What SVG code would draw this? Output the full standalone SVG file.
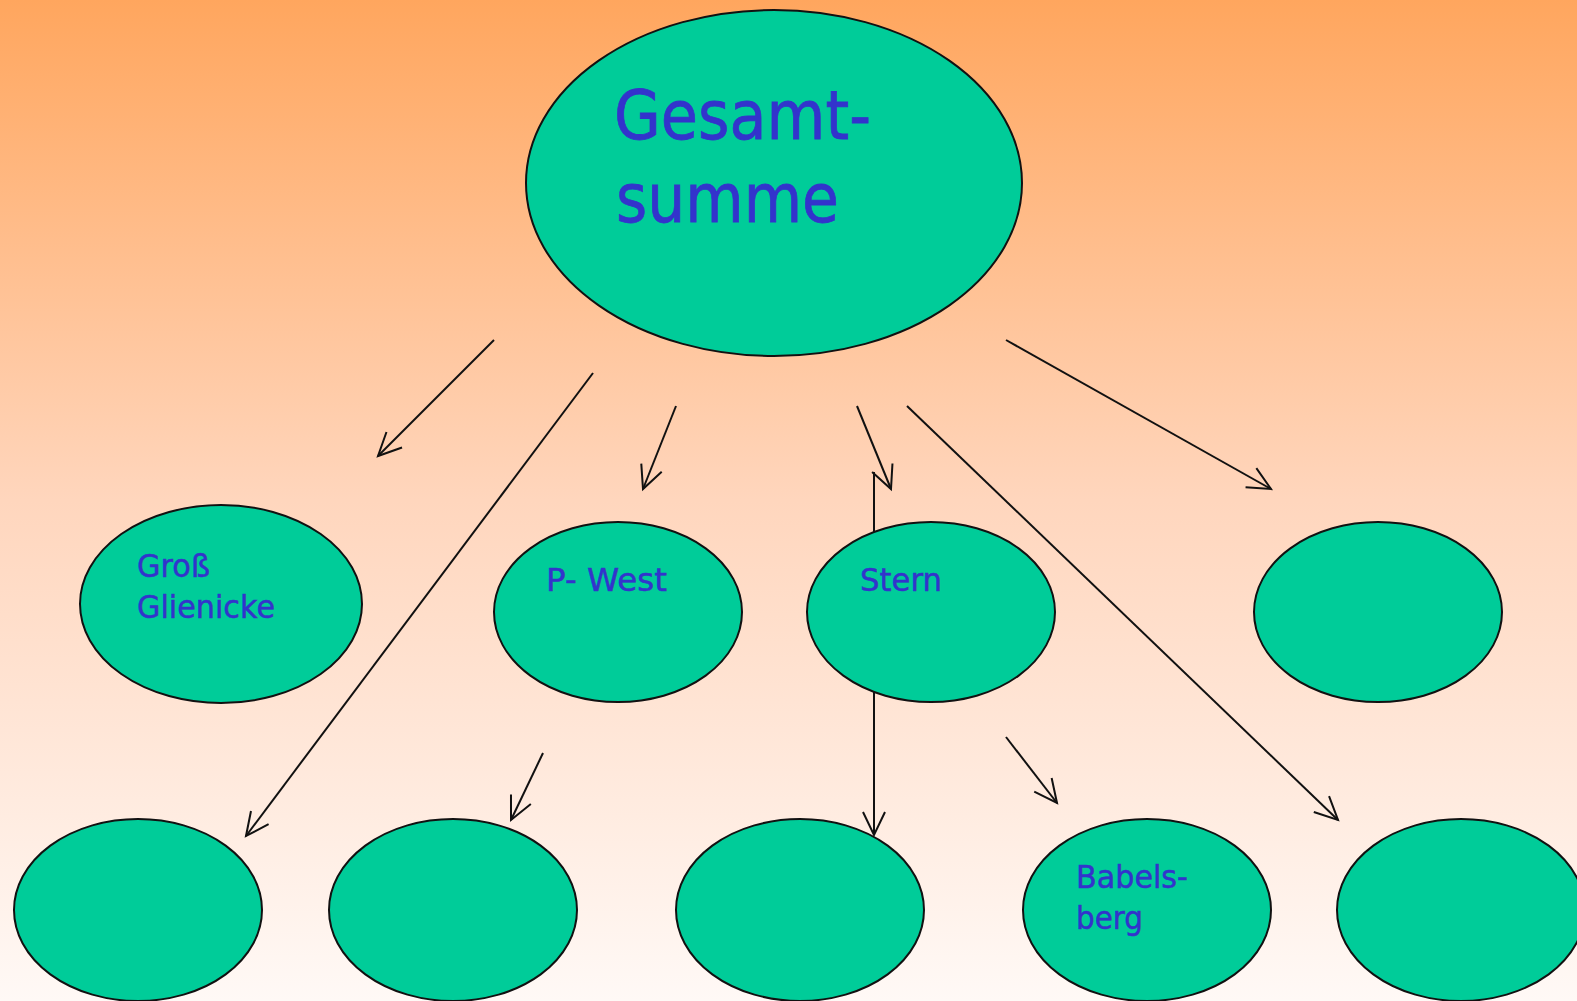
<svg xmlns="http://www.w3.org/2000/svg" width="1577" height="1001" viewBox="0 0 1577 1001">
  <defs>
    <linearGradient id="bg" x1="0" y1="0" x2="0" y2="1">
      <stop offset="0" stop-color="#FFA65E"/>
      <stop offset="0.5" stop-color="#FFD6BD"/>
      <stop offset="1" stop-color="#FFF9F6"/>
    </linearGradient>
    <marker id="arr" markerUnits="userSpaceOnUse" orient="auto" refX="0" refY="0" markerWidth="30" markerHeight="30" overflow="visible">
      <path d="M-23,-11 L0,0 L-23,11" fill="none" stroke="#111" stroke-width="2"/>
    </marker>
    <style>
      .node { fill: #00CC99; stroke: #111; stroke-width: 2; }
      .lbl { fill: #3333CC; stroke: #3333CC; font-family: "DejaVu Sans", "Noto Sans", sans-serif; }
      .big { font-size: 68px; stroke-width: 0.8; }
      .sm { font-size: 32px; stroke-width: 0.5; }
      .con { stroke: #111; stroke-width: 2; fill: none; }
    </style>
  </defs>
  <rect x="0" y="0" width="1577" height="1001" fill="url(#bg)"/>

  <g id="node-gesamtsumme">
    <ellipse class="node" cx="774" cy="183" rx="248" ry="173"/>
    <text class="lbl big" x="614" y="139" textLength="257" lengthAdjust="spacingAndGlyphs">Gesamt-</text>
    <text class="lbl big" x="616" y="222" textLength="223" lengthAdjust="spacingAndGlyphs">summe</text>
  </g>

  <g id="node-b1"><ellipse class="node" cx="138" cy="910" rx="124" ry="91"/></g>
  <g id="node-b2"><ellipse class="node" cx="453" cy="910" rx="124" ry="91"/></g>
  <g id="node-b3"><ellipse class="node" cx="800" cy="910" rx="124" ry="91"/></g>
  <g id="node-babelsberg">
    <ellipse class="node" cx="1147" cy="910" rx="124" ry="91"/>
    <text class="lbl sm" x="1076" y="888" textLength="112" lengthAdjust="spacingAndGlyphs">Babels-</text>
    <text class="lbl sm" x="1076" y="929" textLength="67" lengthAdjust="spacingAndGlyphs">berg</text>
  </g>
  <g id="node-b5"><ellipse class="node" cx="1461" cy="910" rx="124" ry="91"/></g>

  <g id="connectors">
    <line class="con" x1="494" y1="340" x2="378" y2="456" marker-end="url(#arr)"/>
    <line class="con" x1="593" y1="373" x2="246" y2="836" marker-end="url(#arr)"/>
    <line class="con" x1="676" y1="406" x2="643" y2="489" marker-end="url(#arr)"/>
    <line class="con" x1="857" y1="406" x2="891" y2="489" marker-end="url(#arr)"/>
    <line class="con" x1="874" y1="472" x2="874" y2="835" marker-end="url(#arr)"/>
    <line class="con" x1="907" y1="406" x2="1338" y2="820" marker-end="url(#arr)"/>
    <line class="con" x1="1006" y1="340" x2="1271" y2="489" marker-end="url(#arr)"/>
    <line class="con" x1="543" y1="753" x2="511" y2="820" marker-end="url(#arr)"/>
    <line class="con" x1="1006" y1="737" x2="1057" y2="803" marker-end="url(#arr)"/>
  </g>

  <g id="node-gross-glienicke">
    <ellipse class="node" cx="221" cy="604" rx="141" ry="99"/>
    <text class="lbl sm" x="137" y="577" textLength="73" lengthAdjust="spacingAndGlyphs">Groß</text>
    <text class="lbl sm" x="137" y="618" textLength="138" lengthAdjust="spacingAndGlyphs">Glienicke</text>
  </g>
  <g id="node-p-west">
    <ellipse class="node" cx="618" cy="612" rx="124" ry="90"/>
    <text class="lbl sm" x="546" y="591" textLength="121" lengthAdjust="spacingAndGlyphs">P- West</text>
  </g>
  <g id="node-stern">
    <ellipse class="node" cx="931" cy="612" rx="124" ry="90"/>
    <text class="lbl sm" x="860" y="591" textLength="82" lengthAdjust="spacingAndGlyphs">Stern</text>
  </g>
  <g id="node-m4">
    <ellipse class="node" cx="1378" cy="612" rx="124" ry="90"/>
  </g>
</svg>
